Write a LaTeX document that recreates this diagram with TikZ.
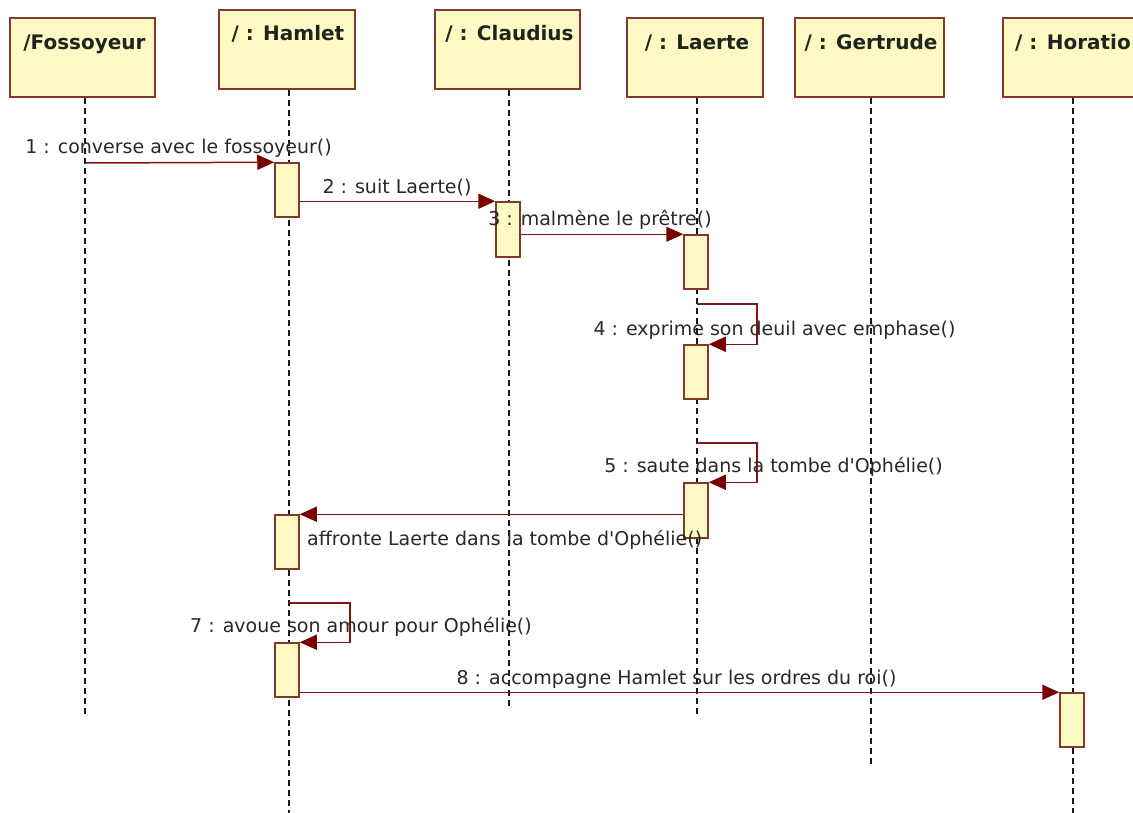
\documentclass[tikz,border=0pt]{standalone}
\usepackage{fontspec}
\setmainfont{DejaVu Sans}
\usetikzlibrary{arrows.meta}
\definecolor{boxfill}{RGB}{255,249,196}
\definecolor{boxline}{RGB}{128,58,42}
\definecolor{msgline}{RGB}{128,22,22}
\definecolor{msghead}{RGB}{122,0,0}
\definecolor{ink}{RGB}{40,40,40}
\definecolor{headink}{RGB}{30,36,30}
\begin{document}
\begin{tikzpicture}[x=1pt,y=-1pt,
  headbox/.style={draw=boxline, fill=boxfill, line width=1.6pt,
    minimum width=#1, minimum height=79pt, inner sep=0pt},
  headtext/.style={anchor=base, inner sep=0pt, text=headink,
    font=\fontsize{20}{24}\selectfont\bfseries},
  lifeline/.style={draw=black!90, line width=1.5pt, dash pattern=on 6pt off 4pt},
  actbox/.style={draw=boxline, fill=boxfill, line width=1.5pt,
    minimum width=24pt, minimum height=54pt, inner sep=0pt},
  msg/.style={draw=msgline, line width=1.5pt,
    -{Triangle[length=17pt,width=15pt,fill=msghead,color=msghead]}},
  msgtext/.style={anchor=base, inner sep=0pt, text=ink,
    font=\fontsize{19}{23}\selectfont}
]
\useasboundingbox (0,0) rectangle (1133,812);
\clip (0,0) rectangle (1133,812);

% participant heads
\node[headbox=145] (fos) at (82.5,57.5) {};
\node[headbox=136] (ham) at (287,49.5) {};
\node[headbox=145] (cla) at (507.5,49.5) {};
\node[headbox=136] (lae) at (695,57.5) {};
\node[headbox=149] (ger) at (869.5,57.5) {};
\node[headbox=140] (hor) at (1073,57.5) {};

\node[headtext] (fosT) at (84.5,49.3) {/Fossoyeur};
\node[headtext] (hamT) at (288,40) {/ : Hamlet};
\node[headtext] (claT) at (509.5,40.7) {/ : Claudius};
\node[headtext] (laeT) at (697,49) {/ : Laerte};
\node[headtext] (gerT) at (871,49) {/ : Gertrude};
\node[headtext] (horT) at (1073,49) {/ : Horatio};

% lifeline ends
\coordinate (fosEnd) at (85,717);
\coordinate (hamEnd) at (289,815);
\coordinate (claEnd) at (509,709);
\coordinate (laeEnd) at (697,716);
\coordinate (gerEnd) at (871,764);
\coordinate (horEnd) at (1073,815);

\draw[lifeline] (fosEnd |- fos.south) -- (fosEnd);
\draw[lifeline] (hamEnd |- ham.south) -- (hamEnd);
\draw[lifeline] (claEnd |- cla.south) -- (claEnd);
\draw[lifeline] (laeEnd |- lae.south) -- (laeEnd);
\draw[lifeline] (gerEnd |- ger.south) -- (gerEnd);
\draw[lifeline] (horEnd |- hor.south) -- (horEnd);

% activation bars
\node[actbox] (h1) at (287,190) {};
\node[actbox, minimum height=55pt] (c1) at (508,229.5) {};
\node[actbox] (l1) at (696,262) {};
\node[actbox] (l2) at (696,372) {};
\node[actbox, minimum height=55pt] (l3) at (696,510.5) {};
\node[actbox] (h2) at (287,542) {};
\node[actbox] (h3) at (287,670) {};
\node[actbox] (o1) at (1072,720) {};

% messages
\coordinate (m1s) at (85,163);
\draw[msg] (m1s) -- (h1.north west);
\draw[msg] (h1.east |- c1.north) -- (c1.north west);
\draw[msg] (c1.east |- l1.north) -- (l1.north west);
\coordinate (m4s) at (697,304);
\draw[msg] (m4s) -- ++(60,0) |- (l2.north east);
\coordinate (m5s) at (697,443);
\draw[msg] (m5s) -- ++(60,0) |- (l3.north east);
\draw[msg] (l3.west |- h2.north) -- (h2.north east);
\coordinate (m7s) at (289,603);
\draw[msg] (m7s) -- ++(61,0) |- (h3.north east);
\draw[msg] (h3.east |- o1.north) -- (o1.north west);

% message labels
\node[msgtext] (t1) at (178.5,153) {1 : converse avec le fossoyeur()};
\node[msgtext] (t2) at (397,193) {2 : suit Laerte()};
\node[msgtext] (t3) at (600,225) {3 : malmène le prêtre()};
\node[msgtext] (t4) at (774.5,335) {4 : exprime son deuil avec emphase()};
\node[msgtext] (t5) at (773.5,472) {5 : saute dans la tombe d\textquotesingle Ophélie()};
\node[msgtext, anchor=base west] (t6) at (307,545) {affronte Laerte dans la tombe d\textquotesingle Ophélie()};
\node[msgtext] (t7) at (361,632) {7 : avoue son amour pour Ophélie()};
\node[msgtext] (t8) at (676.5,684) {8 : accompagne Hamlet sur les ordres du roi()};
\end{tikzpicture}
\end{document}
